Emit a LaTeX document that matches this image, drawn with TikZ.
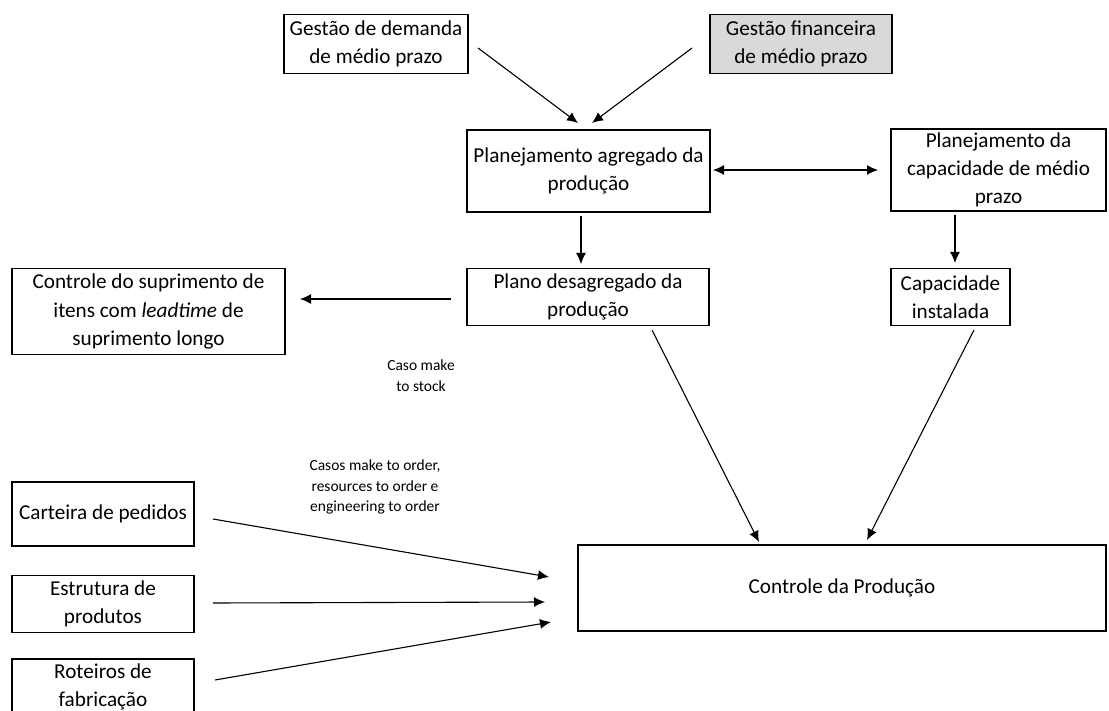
\documentclass[tikz,border=0pt]{standalone}
\usepackage{fontspec}
\setmainfont{Carlito}
\usetikzlibrary{arrows.meta}
\definecolor{boxgray}{RGB}{217,217,217}
\begin{document}
\begin{tikzpicture}[x=1pt,y=-1pt,
  box/.style={draw, line width=1.8pt, align=center, inner sep=0pt, font=\fontsize{21.2}{28.2}\selectfont},
  arr/.style={line width=1.1pt, -{Latex[length=11pt,width=10pt]}},
  darr/.style={line width=1.1pt, {Latex[length=11pt,width=10pt]}-{Latex[length=11pt,width=10pt]}},
  lbl/.style={align=center, inner sep=0pt, font=\fontsize{15.5}{20.8}\selectfont}]
\useasboundingbox[fill=white] (0,0) rectangle (1109,711);
% boxes
\node[box, minimum width=184pt, minimum height=59pt] (dem) at (376,44) {Gestão de demanda\\de médio prazo};
\node[box, fill=boxgray, minimum width=182pt, minimum height=59pt] (fin) at (801,44) {Gestão financeira\\de médio prazo};
\node[box, minimum width=243pt, minimum height=82pt] (agr) at (588.5,171) {Planejamento agregado da\\produção};
\node[box, minimum width=215pt, minimum height=82pt] (cap) at (998.5,170) {Planejamento da\\capacidade de médio\\prazo};
\node[box, minimum width=242pt, minimum height=57pt] (desag) at (588,297) {Plano desagregado da\\produção};
\node[box, minimum width=119pt, minimum height=57pt] (inst) at (950.5,297) {Capacidade\\instalada};
\node[box, minimum width=273pt, minimum height=86pt] (sup) at (148.5,311.5) {Controle do suprimento de\\itens com \textit{leadtime} de\\suprimento longo};
\node[box, minimum width=528pt, minimum height=86pt] (ctrl) at (842,588) {Controle da Produção};
\node[box, minimum width=182pt, minimum height=64pt] (cart) at (103,514) {Carteira de pedidos};
\node[box, minimum width=182pt, minimum height=57pt] (estr) at (103,604) {Estrutura de\\produtos};
\node[box, minimum width=182pt, minimum height=56pt] (rot) at (103,687) {Roteiros de\\fabricação};
% labels
\node[lbl] (l1) at (421,376) {Caso make\\to stock};
\node[lbl] (l2) at (375,487) {Casos make to order,\\resources to order e\\engineering to order};
% connector ends
\coordinate (a1s) at (478,48);  \coordinate (a1e) at (578,123);
\coordinate (a2s) at (692,48);  \coordinate (a2e) at (592,123);
\coordinate (a3s) at (713,170); \coordinate (a3e) at (878,170);
\coordinate (a4s) at (581,216); \coordinate (a4e) at (581,264);
\coordinate (a5s) at (955,215); \coordinate (a5e) at (955,263);
\coordinate (a6s) at (451,299); \coordinate (a6e) at (300,299);
\coordinate (a7s) at (652,330); \coordinate (a7e) at (759,542);
\coordinate (a8s) at (974,330); \coordinate (a8e) at (867,540);
\coordinate (a9s) at (213,519); \coordinate (a9e) at (549,577);
\coordinate (a10s) at (213,603); \coordinate (a10e) at (545,602);
\coordinate (a11s) at (215,680); \coordinate (a11e) at (551,622);
% connectors
\draw[arr] (a1s) -- (a1e);
\draw[arr] (a2s) -- (a2e);
\draw[darr] (a3s) -- (a3e);
\draw[arr] (a4s) -- (a4e);
\draw[arr] (a5s) -- (a5e);
\draw[arr] (a6s) -- (a6e);
\draw[arr] (a7s) -- (a7e);
\draw[arr] (a8s) -- (a8e);
\draw[arr] (a9s) -- (a9e);
\draw[arr] (a10s) -- (a10e);
\draw[arr] (a11s) -- (a11e);
\end{tikzpicture}
\end{document}
